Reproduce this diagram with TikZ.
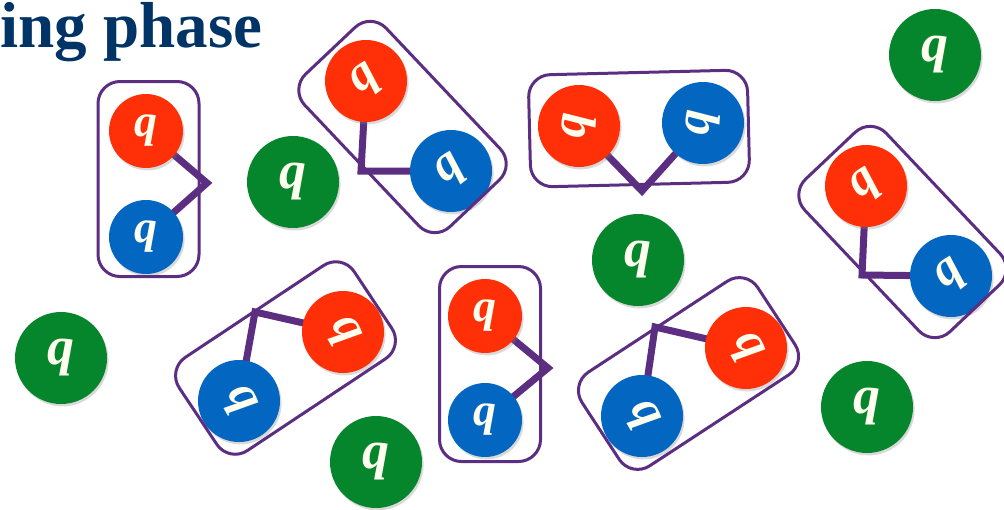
\documentclass[tikz,border=0pt]{standalone}
\usepackage{fontspec}
\setmainfont{Liberation Serif}
\usepackage{graphicx}
\usetikzlibrary{calc,shadows,backgrounds}

\definecolor{qred}{RGB}{255,48,8}
\definecolor{qblue}{RGB}{3,102,192}
\definecolor{qgreen}{RGB}{6,134,44}
\definecolor{bondpurple}{RGB}{92,46,130}
\definecolor{titlenavy}{RGB}{0,51,102}
\definecolor{qcream}{RGB}{255,255,240}

\newcommand{\qlet}[1]{\rotatebox[origin=c]{#1}{\bfseries\itshape q}}

\begin{document}
\begin{tikzpicture}[
  x=0.5pt, y=-0.5pt,
  quark/.style={
    circle, inner sep=0pt, outer sep=0pt,
    minimum size=41pt, text=qcream,
    font=\fontsize{25}{25}\selectfont,
    drop shadow={shadow xshift=0.8pt, shadow yshift=-1.2pt, opacity=0.3}
  },
  redq/.style={quark, fill=qred},
  blueq/.style={quark, fill=qblue},
  greenq/.style={quark, fill=qgreen, minimum size=46pt,
    font=\fontsize{27}{27}\selectfont},
  pairsmall/.style={minimum size=37pt, font=\fontsize{23}{23}\selectfont},
  pairbox/.style={
    draw=bondpurple, line width=1.5pt, rounded corners=11pt,
    minimum width=105pt, minimum height=56pt, inner sep=0pt
  },
  flatbox/.style={pairbox, minimum width=109.5pt, minimum height=56pt},
  smallbox/.style={pairbox, minimum width=97.5pt, minimum height=50.5pt},
  bond/.style={draw=bondpurple, line width=3.5pt, line join=miter},
  titletext/.style={font=\fontsize{32.5}{32.5}\selectfont\bfseries,
    text=titlenavy, anchor=base west, inner sep=0pt}
]
\clip (0,0) rectangle (1004,509);

% =============================================================
% title
% =============================================================
\node[titletext] (phase) at (0,47) {ing phase};

% =============================================================
% free (unpaired) q's
% =============================================================
\node[greenq] (free1) at (293,182) {\qlet{0}};
\node[greenq] (free2) at (935,55)  {\qlet{0}};
\node[greenq] (free3) at (638,260) {\qlet{0}};
\node[greenq] (free4) at (61,358)  {\qlet{0}};
\node[greenq] (free5) at (376,462) {\qlet{0}};
\node[greenq] (free6) at (867,407) {\qlet{0}};

% =============================================================
% bound pairs: red + blue, bond, box
% =============================================================
\node[redq, pairsmall]  (redA)  at (146,131) {\qlet{0}};
\node[blueq, pairsmall] (blueA) at (146,237) {\qlet{0}};
\coordinate (kinkA) at (207,183);
\node[smallbox, rotate=90] (boxA) at (148.5,179) {};

\node[redq]  (redB)  at (366,81)  {\qlet{38}};
\node[blueq] (blueB) at (451,171) {\qlet{38}};
\coordinate (kinkB) at (361,171);
\node[pairbox, rotate=-46.6] (boxB) at (402.5,127) {};

\node[redq]  (redC)  at (579,126) {\qlet{86}};
\node[blueq] (blueC) at (703,123) {\qlet{86}};
\coordinate (kinkC) at (642,191);
\node[flatbox, rotate=1.4] (boxC) at (639,128.5) {};

\node[redq]  (redD)  at (866,186) {\qlet{38}};
\node[blueq] (blueD) at (951,276) {\qlet{38}};
\coordinate (kinkD) at (862,275);
\node[pairbox, rotate=-46.6] (boxD) at (902.5,232) {};

\node[redq]  (redE)  at (343,332) {\qlet{-60}};
\node[blueq] (blueE) at (239,401) {\qlet{-60}};
\coordinate (kinkE) at (255,312);
\node[pairbox, rotate=33.6] (boxE) at (285.5,358) {};

\node[redq, pairsmall]  (redF)  at (485,316) {\qlet{0}};
\node[blueq, pairsmall] (blueF) at (485,420) {\qlet{0}};
\coordinate (kinkF) at (548,368);
\node[smallbox, rotate=90] (boxF) at (490,364) {};

\node[redq]  (redG)  at (746,348) {\qlet{-60}};
\node[blueq] (blueG) at (642,416) {\qlet{-60}};
\coordinate (kinkG) at (655,327);
\node[pairbox, rotate=33.2] (boxG) at (688.5,373.5) {};

% bonds sit behind the balls
\begin{scope}[on background layer]
  \foreach \p in {A,B,C,D,E,F,G}
    \draw[bond] (red\p.center) -- (kink\p) -- (blue\p.center);
\end{scope}

\end{tikzpicture}
\end{document}
